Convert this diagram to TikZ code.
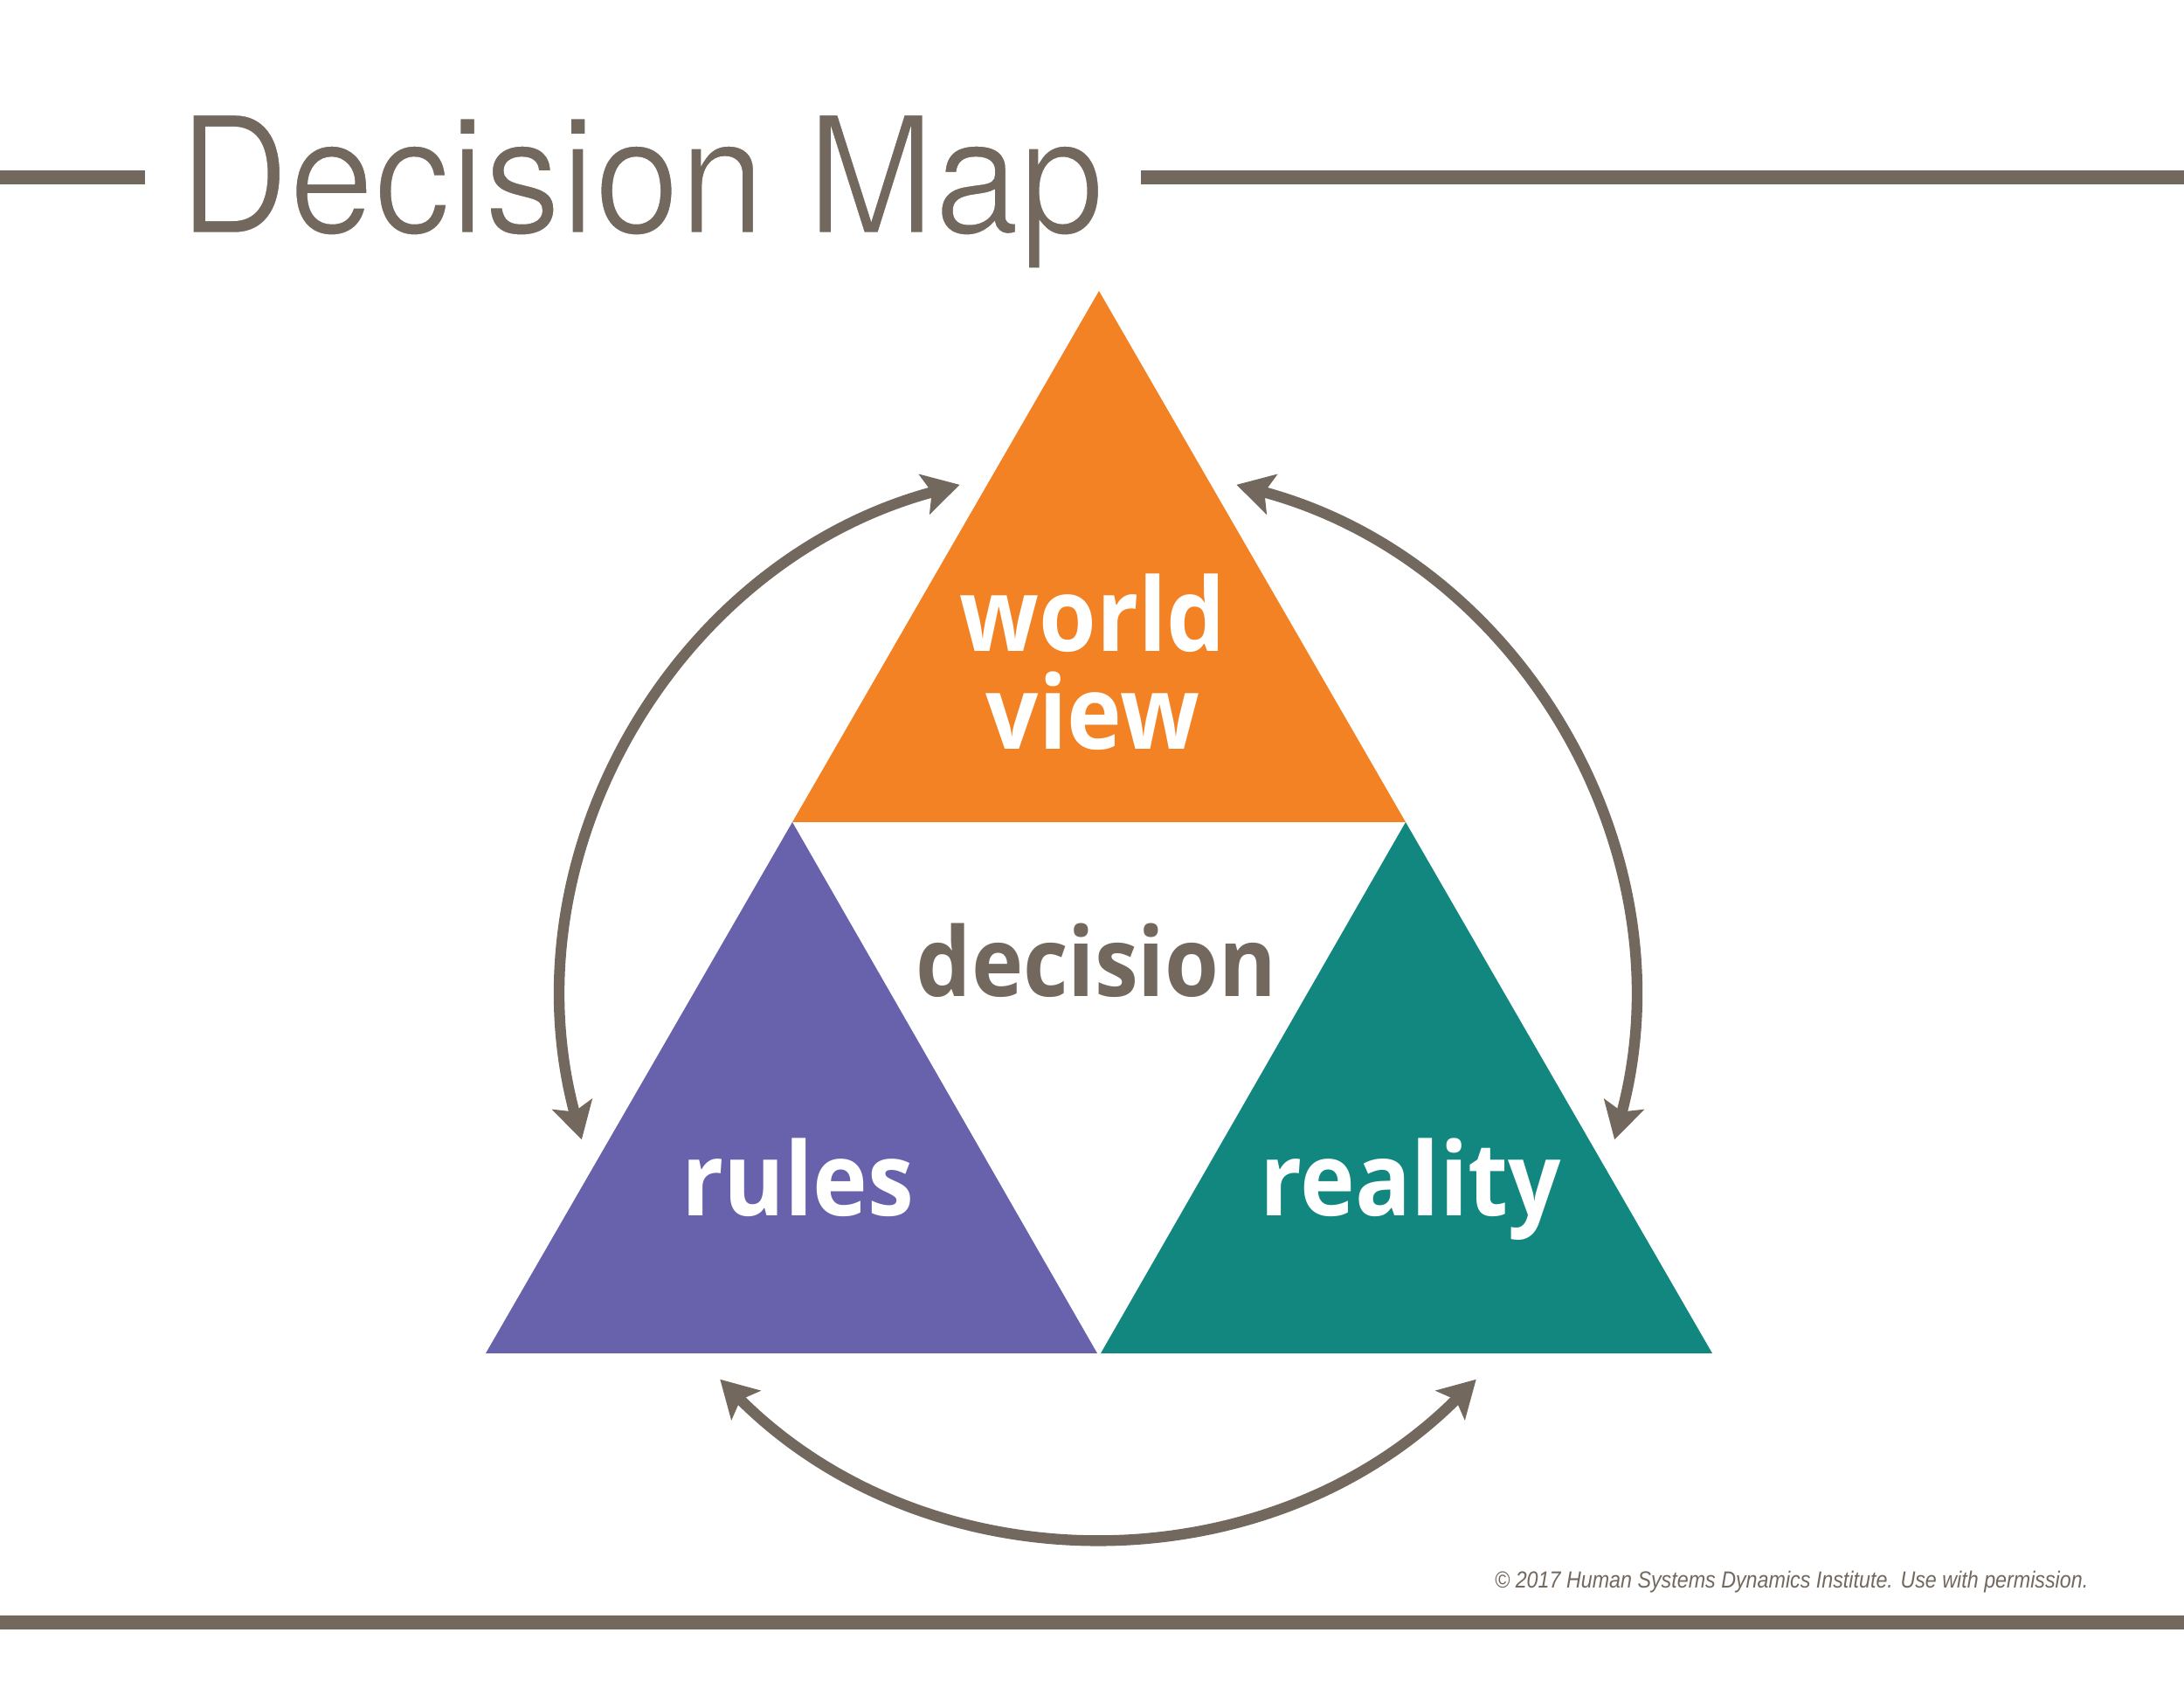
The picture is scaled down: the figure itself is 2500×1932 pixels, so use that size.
\documentclass[tikz,border=0pt]{standalone}
\usepackage{fontspec}
\setmainfont{Liberation Sans}
\newfontfamily\titlefont[FakeStretch=0.937]{TeX Gyre Heros}
\newfontfamily\labelfont[FakeStretch=0.91]{Open Sans}
\newfontfamily\notefont[FakeStretch=0.873]{Liberation Sans}
\usetikzlibrary{arrows.meta}
\definecolor{hsdgray}{RGB}{114,104,94}
\definecolor{hsdorange}{RGB}{242,130,35}
\definecolor{hsdpurple}{RGB}{103,98,171}
\definecolor{hsdteal}{RGB}{18,135,127}
\tikzset{
  rulebar/.style={draw=hsdgray, line width=4.8pt},
  cyclearrow/.style={draw=hsdgray, line width=3.7pt,
    arrows={Stealth[length=12.5pt,width=14pt,inset=2.6pt]-Stealth[length=12.5pt,width=14pt,inset=2.6pt]}},
  whitelabel/.style={anchor=base, inner sep=0pt, text=white,
    font=\labelfont\bfseries\fontsize{35}{40}\selectfont},
  graylabel/.style={anchor=base, inner sep=0pt, text=hsdgray,
    font=\labelfont\bfseries\fontsize{33}{38}\selectfont},
}
\begin{document}
\begin{tikzpicture}[x=0.3pt,y=0.3pt]
\useasboundingbox (0,0) rectangle (2500,1932);
\fill[white] (0,0) rectangle (2500,1932);
% rules
\coordinate (tl0) at (0,1729);
\coordinate (tl1) at (166,1729);
\coordinate (tr0) at (1306,1729);
\coordinate (tr1) at (2500,1729);
\coordinate (bl0) at (0,75);
\coordinate (bl1) at (2500,75);
\draw[rulebar] (tl0) -- (tl1);
\draw[rulebar] (tr0) -- (tr1);
\draw[rulebar] (bl0) -- (bl1);
% title
\node[anchor=base west, inner sep=0pt, text=hsdgray,
  font=\titlefont\fontsize{56}{60}\selectfont] (title) at (204,1665)
  {\special{pdf:literal q 1 1 1 RG 2 Tr 0.8 w}Decision Map\special{pdf:literal Q}};
% triangles
\fill[hsdorange] (1258,1599) -- (907,991) -- (1609,991) -- cycle;
\fill[hsdpurple] (907,991) -- (556,383) -- (1256,383) -- cycle;
\fill[hsdteal] (1609,991) -- (1260,383) -- (1960,383) -- cycle;
% labels
\node[whitelabel] (world) at (1251,1186) {world};
\node[whitelabel] (view) at (1251,1074) {view};
\node[graylabel] (decision) at (1255,791) {decision};
\node[whitelabel] (rules) at (913,540) {rules};
\node[whitelabel] (reality) at (1615,540) {reality};
% cycle arrows
\coordinate (ctr) at (1257,786);
\path (ctr) ++(105:183.6pt) coordinate (la);
\path (ctr) ++(-15:183.6pt) coordinate (ra);
\path (ctr) ++(225:183.6pt) coordinate (ba);
\draw[cyclearrow] (la) arc[start angle=105, end angle=195, radius=183.6pt];
\draw[cyclearrow] (ra) arc[start angle=-15, end angle=75, radius=183.6pt];
\draw[cyclearrow] (ba) arc[start angle=225, end angle=315, radius=183.6pt];
% copyright
\node[anchor=base east, inner sep=0pt, text=hsdgray,
  font=\notefont\itshape\fontsize{8}{10}\selectfont] (copy) at (2391,114)
  {© 2017 Human Systems Dynamics Institute. Use with permission.};
\end{tikzpicture}
\end{document}
